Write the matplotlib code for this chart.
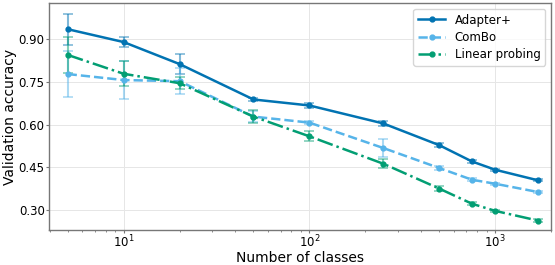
import matplotlib.pyplot as plt

# number of classes
classes = [5, 10, 20, 50, 100, 250, 500, 750, 1000, 1700]

adapter_acc = [0.934, 0.889, 0.812, 0.688, 0.667, 0.604, 0.528, 0.471, 0.442, 0.405]
adapter_err = [0.054, 0.016, 0.034, 0.006, 0.008, 0.008, 0.008, 0.005, 0.004, 0.004]

combo_acc = [0.777, 0.756, 0.752, 0.628, 0.607, 0.518, 0.448, 0.407, 0.393, 0.364]
combo_err = [0.082, 0.067, 0.045, 0.020, 0.006, 0.030, 0.007, 0.005, 0.004, 0.004]

linear_acc = [0.844, 0.778, 0.745, 0.628, 0.559, 0.463, 0.376, 0.323, 0.298, 0.264]
linear_err = [0.064, 0.044, 0.022, 0.023, 0.018, 0.015, 0.008, 0.006, 0.004, 0.004]

yticks = [0.30, 0.45, 0.60, 0.75, 0.90]

fig = plt.figure(figsize=(5.55, 2.65), dpi=100)
ax = fig.add_axes([0.088, 0.132, 0.905, 0.857])

series = [
    ("Adapter+", adapter_acc, adapter_err, "#0173B2", "-"),
    ("ComBo", combo_acc, combo_err, "#56B4E9", "--"),
    ("Linear probing", linear_acc, linear_err, "#029E73", "-."),
]
for name, acc, err, col, ls in series:
    ax.errorbar(classes, acc, yerr=err, fmt="none", ecolor=col, alpha=0.5,
                elinewidth=1.5, capsize=3.5, capthick=1.2, zorder=2)
    ax.plot(classes, acc, color=col, linestyle=ls, linewidth=1.8,
            marker="o", markersize=3.5, label=name, zorder=3)

ax.set_xscale("log")
ax.set_xlim(3.96, 2000)
ax.set_ylim(0.231, 1.026)
ax.set_yticks(yticks)
ax.set_yticklabels([f"{v:.2f}" for v in yticks])
ax.grid(True, which="major", color="#e6e6e6", linewidth=0.7)
ax.set_axisbelow(True)
for s in ax.spines.values():
    s.set_color("#777777")
    s.set_linewidth(1.0)
ax.tick_params(labelsize=8.5, colors="#777777", labelcolor="black", length=2, pad=1)
ax.tick_params(which="minor", colors="#777777", length=1.5)
ax.set_xlabel("Number of classes", fontsize=10, labelpad=0)
ax.set_ylabel("Validation accuracy", fontsize=10, labelpad=1.5)
ax.legend(loc="upper right", fontsize=8.5, handlelength=2.3, borderpad=0.4,
          labelspacing=0.35, fancybox=True)

fig.savefig("out.png", dpi=100)
